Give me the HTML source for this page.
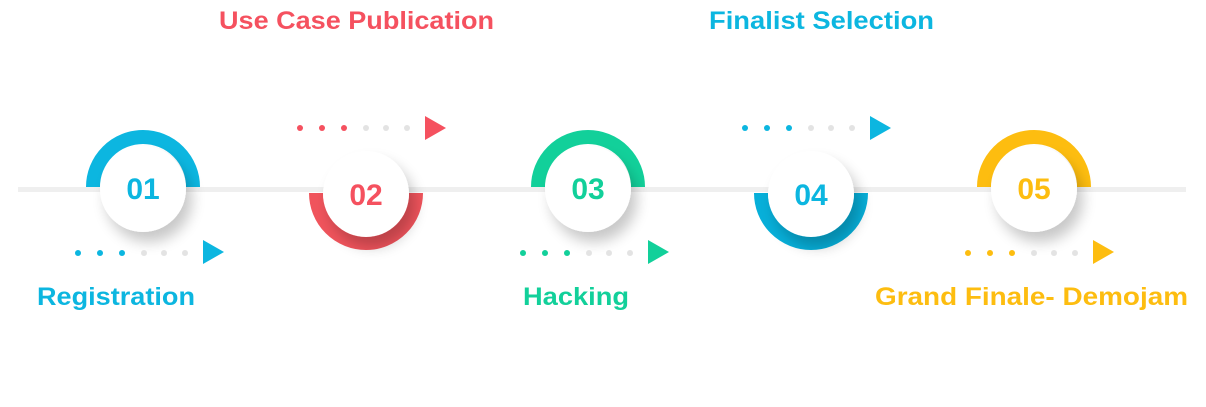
<!DOCTYPE html>
<html><head><meta charset="utf-8"><style>
html,body{margin:0;padding:0;background:#fff;width:1206px;height:407px;overflow:hidden}
svg{display:block}
text{font-family:"Liberation Sans",sans-serif;font-weight:bold}
</style></head><body>
<svg width="1206" height="407" viewBox="0 0 1206 407" xmlns="http://www.w3.org/2000/svg">
<defs>
<filter id="sh" x="-50%" y="-50%" width="200%" height="200%">
<feGaussianBlur in="SourceAlpha" stdDeviation="7"/>
<feOffset dx="6" dy="10"/>
<feComponentTransfer><feFuncA type="linear" slope="0.22"/></feComponentTransfer>
<feMerge><feMergeNode/><feMergeNode in="SourceGraphic"/></feMerge>
</filter>
</defs>
<rect x="18" y="187" width="1168" height="5" fill="#efefef"/>

<!-- 01 -->
<path d="M93 187 A50 50 0 0 1 193 187" fill="none" stroke="#0cb6e0" stroke-width="14"/>
<circle cx="143" cy="189" r="43" fill="#fff" filter="url(#sh)"/>
<text x="143" y="199" font-size="30" fill="#0cb6e0" text-anchor="middle">01</text>
<!-- 02 -->
<path d="M316 193 A50 50 0 0 0 416 193" fill="none" stroke="#f0545c" stroke-width="14"/>
<circle cx="366" cy="194" r="43" fill="#fff" filter="url(#sh)"/>
<text x="366" y="205" font-size="30" fill="#f5515f" text-anchor="middle">02</text>
<!-- 03 -->
<path d="M538 187 A50 50 0 0 1 638 187" fill="none" stroke="#12d09a" stroke-width="14"/>
<circle cx="588" cy="189" r="43" fill="#fff" filter="url(#sh)"/>
<text x="588" y="199" font-size="30" fill="#12d09a" text-anchor="middle">03</text>
<!-- 04 -->
<path d="M761 193 A50 50 0 0 0 861 193" fill="none" stroke="#07afd9" stroke-width="14"/>
<circle cx="811" cy="194" r="43" fill="#fff" filter="url(#sh)"/>
<text x="811" y="205" font-size="30" fill="#0cb6e0" text-anchor="middle">04</text>
<!-- 05 -->
<path d="M984 187 A50 50 0 0 1 1084 187" fill="none" stroke="#fdbd10" stroke-width="14"/>
<circle cx="1034" cy="189" r="43" fill="#fff" filter="url(#sh)"/>
<text x="1034" y="199" font-size="30" fill="#fdbd10" text-anchor="middle">05</text>

<!-- dots 01 -->
<g fill="#0cb6e0"><circle cx="78" cy="253" r="3"/><circle cx="100" cy="253" r="3"/><circle cx="122" cy="253" r="3"/></g>
<g fill="#e3e3e3"><circle cx="144" cy="253" r="3"/><circle cx="164" cy="253" r="3"/><circle cx="185" cy="253" r="3"/></g>
<polygon points="203,240 224,252 203,264" fill="#0cb6e0"/>
<!-- dots 02 -->
<g fill="#f5515f"><circle cx="300" cy="128" r="3"/><circle cx="322" cy="128" r="3"/><circle cx="344" cy="128" r="3"/></g>
<g fill="#e3e3e3"><circle cx="366" cy="128" r="3"/><circle cx="386" cy="128" r="3"/><circle cx="407" cy="128" r="3"/></g>
<polygon points="425,116 446,128 425,140" fill="#f5515f"/>
<!-- dots 03 -->
<g fill="#12d09a"><circle cx="523" cy="253" r="3"/><circle cx="545" cy="253" r="3"/><circle cx="567" cy="253" r="3"/></g>
<g fill="#e3e3e3"><circle cx="589" cy="253" r="3"/><circle cx="609" cy="253" r="3"/><circle cx="630" cy="253" r="3"/></g>
<polygon points="648,240 669,252 648,264" fill="#12d09a"/>
<!-- dots 04 -->
<g fill="#0cb6e0"><circle cx="745" cy="128" r="3"/><circle cx="767" cy="128" r="3"/><circle cx="789" cy="128" r="3"/></g>
<g fill="#e3e3e3"><circle cx="811" cy="128" r="3"/><circle cx="831" cy="128" r="3"/><circle cx="852" cy="128" r="3"/></g>
<polygon points="870,116 891,128 870,140" fill="#0cb6e0"/>
<!-- dots 05 -->
<g fill="#fdbd10"><circle cx="968" cy="253" r="3"/><circle cx="990" cy="253" r="3"/><circle cx="1012" cy="253" r="3"/></g>
<g fill="#e3e3e3"><circle cx="1034" cy="253" r="3"/><circle cx="1054" cy="253" r="3"/><circle cx="1075" cy="253" r="3"/></g>
<polygon points="1093,240 1114,252 1093,264" fill="#fdbd10"/>

<text x="219" y="29" font-size="25" fill="#f5515f" textLength="275" lengthAdjust="spacingAndGlyphs">Use Case Publication</text>
<text x="709" y="29" font-size="25" fill="#0cb6e0" textLength="225" lengthAdjust="spacingAndGlyphs">Finalist Selection</text>
<text x="37" y="305" font-size="25" fill="#0cb6e0" textLength="158" lengthAdjust="spacingAndGlyphs">Registration</text>
<text x="523" y="305" font-size="25" fill="#12d09a" textLength="106" lengthAdjust="spacingAndGlyphs">Hacking</text>
<text x="875" y="305" font-size="25" fill="#fdbd10" textLength="313" lengthAdjust="spacingAndGlyphs">Grand Finale- Demojam</text>
</svg>
</body></html>
